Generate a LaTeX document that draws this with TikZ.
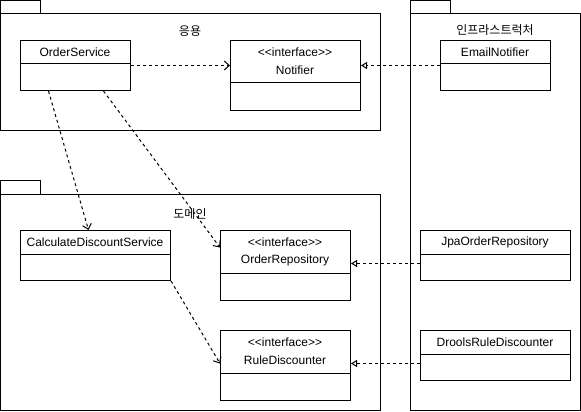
\documentclass[tikz,border=0pt]{standalone}
\usepackage{fontspec}
\setmainfont{Liberation Sans}[Ligatures=NoCommon]
\newfontfamily\krfont{Noto Sans CJK KR}
\usetikzlibrary{arrows.meta}
\newcommand{\stereo}{{<}{<}interface{>}{>}}
\begin{document}
\begin{tikzpicture}[x=1pt,y=-1pt,line width=1pt,
  font=\fontsize{12}{14}\selectfont,
  pkg/.style={draw,fill=white},
  cbox/.style={draw,fill=white,inner sep=0pt,anchor=north west},
  lbl/.style={inner sep=0pt},
  dep/.style={dash pattern=on 3pt off 3pt,-{Straight Barb[length=5pt,width=9pt,line width=1pt]}},
  real/.style={dash pattern=on 3pt off 3pt,-{Triangle[open,length=6pt,width=7pt,line width=1pt]}}]
\useasboundingbox (0,0) rectangle (581,412);
% packages
\draw[pkg] (0,14) rectangle (380,130);
\draw[pkg] (0,1) rectangle (40,14);
\node[lbl,font=\krfont\fontsize{12}{14}\selectfont] (lapp) at (190,31) {응용};
\draw[pkg] (410,14) rectangle (580,410);
\draw[pkg] (410,1) rectangle (450,14);
\node[lbl,font=\krfont\fontsize{12}{14}\selectfont] (linfra) at (495,30) {인프라스트럭처};
\draw[pkg] (0,194) rectangle (380,410);
\draw[pkg] (0,180) rectangle (40,194);
% classes
\node[cbox,minimum width=110pt,minimum height=50pt] (os) at (20,40) {};
\draw (20,64) -- (130,64);
\node[lbl] (tos) at (75,52) {OrderService};
\node[cbox,minimum width=130pt,minimum height=70pt] (notif) at (230,40) {};
\draw (230,83) -- (360,83);
\node[lbl] (snotif) at (295,52) {\stereo};
\node[lbl] (tnotif) at (295,70) {Notifier};
\node[cbox,minimum width=110pt,minimum height=50pt] (email) at (440,40) {};
\draw (440,64) -- (550,64);
\node[lbl] (temail) at (495,52) {EmailNotifier};
\node[cbox,minimum width=150pt,minimum height=50pt] (cds) at (20,230) {};
\draw (20,254) -- (170,254);
\node[lbl] (tcds) at (95,242) {CalculateDiscountService};
\node[cbox,minimum width=130pt,minimum height=70pt] (orep) at (220,230) {};
\draw (220,273) -- (350,273);
\node[lbl] (sorep) at (285,242) {\stereo};
\node[lbl] (torep) at (285,260) {OrderRepository};
\node[cbox,minimum width=130pt,minimum height=70pt] (rd) at (220,330) {};
\draw (220,373) -- (350,373);
\node[lbl] (srd) at (285,342) {\stereo};
\node[lbl] (trd) at (285,360) {RuleDiscounter};
\node[cbox,minimum width=150pt,minimum height=50pt] (jpa) at (420,230) {};
\draw (420,254) -- (570,254);
\node[lbl] (tjpa) at (495,242) {JpaOrderRepository};
\node[cbox,minimum width=150pt,minimum height=50pt] (drl) at (420,330) {};
\draw (420,354) -- (570,354);
\node[lbl] (tdrl) at (495,342) {DroolsRuleDiscounter};
\node[lbl,font=\krfont\fontsize{12}{14}\selectfont] (ldom) at (190,214) {도메인};
% connectors
\draw[dep] (os.east) -- (os.east -| notif.west);
\draw[real] (email.west) -- (email.west -| notif.east);
\draw[dep] ([xshift=-27pt]os.south) -- ([xshift=-7pt]cds.north);
\draw[dep] ([xshift=28pt]os.south) -- ([yshift=18pt]orep.west);
\draw[dep] (cds.south east) -- ([yshift=2pt]rd.west);
\draw[real] ([yshift=2pt]orep.east -| jpa.west) -- ([yshift=2pt]orep.east);
\draw[real] ([yshift=2pt]rd.east -| drl.west) -- ([yshift=2pt]rd.east);
\end{tikzpicture}
\end{document}
